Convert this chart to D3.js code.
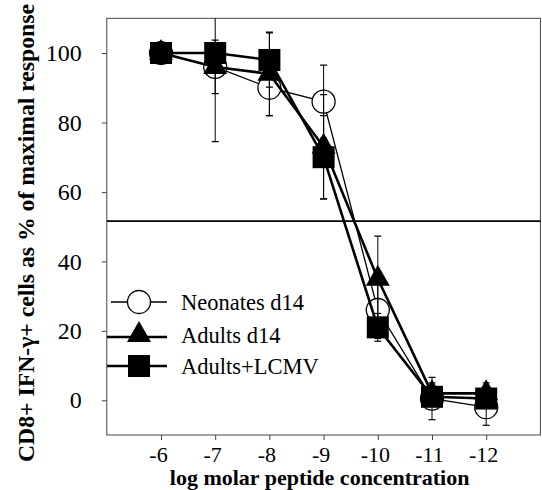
<!DOCTYPE html>
<html><head><meta charset="utf-8">
<script src="https://cdn.jsdelivr.net/npm/d3@7"></script>
<style>body{margin:0;background:#fff}svg{display:block}</style>
</head><body><svg id="c" width="542" height="490"></svg>
<script>
// ---- data ----
const concentrations = [-6, -7, -8, -9, -10, -11, -12];
const tickLabelsX = ["-6", "-7", "-8", "-9", "-10", "-11", "-12"];
const tickValuesY = [0, 20, 40, 60, 80, 100];
const seriesNames = ["Neonates d14", "Adults d14", "Adults+LCMV"];
const neonatesValues = [100, 96, 90, 86, 26, 0.5, -2];
const neonatesErrors = [0, 7.7, 8, 10.5, 8.2, 6.1, 5.2];
const adultsValues = [100, 96, 94, 73, 35, 2, 2];
const adultsErrors = [0, 21.5, 12, 15, 12.3, 3, 3];
const lcmvValues = [100, 100, 98, 70, 21, 1, 0.5];
const lcmvErrors = [0, 3, 7.8, 12, 4, 2, 2];
const halfMaxLine = 51.6;
const xTitle = "log molar peptide concentration";
const yTitle = "CD8+ IFN-\u03B3+ cells as % of maximal response";

// ---- layout ----
const svg = d3.select("#c");
const L = 106.8, R = 540.4, T = 18.3, B = 435;
const x = d3.scaleLinear().domain([-5, -13]).range([L, R]);
const y = d3.scaleLinear().domain([-10, 110]).range([B, T]);
const serif = "'Liberation Serif','Times New Roman',serif";

svg.append("rect").attr("width", 542).attr("height", 490).attr("fill", "#fff");

svg.append("defs").append("clipPath").attr("id", "plot")
  .append("rect").attr("x", L).attr("y", T).attr("width", R - L).attr("height", B - T);

// frame
svg.append("rect").attr("x", L).attr("y", T).attr("width", R - L).attr("height", B - T)
  .attr("fill", "none").attr("stroke", "#444").attr("stroke-width", 1);

// axes
const yAxis = svg.append("g").attr("transform", `translate(${L},0)`)
  .call(d3.axisLeft(y).tickValues(tickValuesY).tickSize(5).tickPadding(20).tickFormat(d3.format("d")));
const xAxis = svg.append("g").attr("transform", `translate(0,${B})`)
  .call(d3.axisBottom(x).tickValues(concentrations).tickSize(5).tickPadding(6)
    .tickFormat((d, i) => tickLabelsX[i]));
[yAxis, xAxis].forEach(g => {
  g.select(".domain").remove();
  g.selectAll("line").attr("stroke", "#444");
  g.selectAll("text").attr("font-family", serif).attr("fill", "#000");
});
yAxis.selectAll("text").attr("font-size", 24);
xAxis.selectAll("text").attr("font-size", 22).attr("dx", -3);

// half-max line
svg.append("line").attr("x1", L).attr("x2", R).attr("y1", y(halfMaxLine)).attr("y2", y(halfMaxLine))
  .attr("stroke", "#000").attr("stroke-width", 1.6);

// series
const series = [
  { name: seriesNames[0], values: neonatesValues, errors: neonatesErrors, shape: "circle", width: 1.3 },
  { name: seriesNames[1], values: adultsValues, errors: adultsErrors, shape: "triangle", width: 2.6 },
  { name: seriesNames[2], values: lcmvValues, errors: lcmvErrors, shape: "square", width: 2.6 }
];

function drawMarker(g, shape, cx, cy) {
  if (shape === "circle") {
    g.append("circle").attr("cx", cx).attr("cy", cy).attr("r", 11.5)
      .attr("fill", "#fff").attr("stroke", "#000").attr("stroke-width", 1.3);
  } else if (shape === "triangle") {
    g.append("path").attr("d", `M${cx},${cy - 14}L${cx + 12},${cy + 7}L${cx - 12},${cy + 7}Z`)
      .attr("fill", "#000");
  } else {
    g.append("rect").attr("x", cx - 11).attr("y", cy - 11).attr("width", 22).attr("height", 22)
      .attr("fill", "#000");
  }
}

const line = d3.line().x((d, i) => x(concentrations[i])).y(d => y(d));
const plot = svg.append("g");
series.forEach(s => {
  plot.append("path").datum(s.values).attr("d", line)
    .attr("fill", "none").attr("stroke", "#000").attr("stroke-width", s.width);
  s.values.forEach((v, i) => drawMarker(plot, s.shape, x(concentrations[i]), y(v)));
});

// error bars
const eb = svg.append("g").attr("clip-path", "url(#plot)");
series.forEach(s => {
  s.values.forEach((v, i) => {
    const e = s.errors[i];
    if (!e) return;
    const cx = x(concentrations[i]);
    eb.append("line").attr("x1", cx).attr("x2", cx).attr("y1", y(v - e)).attr("y2", y(v + e))
      .attr("stroke", "#000").attr("stroke-width", 1);
    [v - e, v + e].forEach(t => {
      eb.append("line").attr("x1", cx - 3.5).attr("x2", cx + 3.5).attr("y1", y(t)).attr("y2", y(t))
        .attr("stroke", "#000").attr("stroke-width", 1.2);
    });
  });
});

// legend
const legendRows = [302, 335, 366];
const lg = svg.append("g");
series.forEach((s, i) => {
  const cy = legendRows[i];
  const ly = s.shape === "triangle" ? cy + 2 : cy;
  lg.append("line").attr("x1", s.shape === "circle" ? 111 : 107).attr("x2", 167)
    .attr("y1", ly).attr("y2", ly).attr("stroke", "#000").attr("stroke-width", s.width);
  drawMarker(lg, s.shape, 139, cy);
  lg.append("text").attr("x", 181).attr("y", cy + 8).text(s.name)
    .attr("font-family", serif).attr("font-size", 22.5).attr("fill", "#000");
});

// axis titles
svg.append("text").attr("x", (L + R) / 2 - 4).attr("y", 485).attr("text-anchor", "middle")
  .attr("font-family", serif).attr("font-weight", "bold").attr("font-size", 22).text(xTitle);
svg.append("text").attr("transform", `translate(34,233) rotate(-90)`).attr("text-anchor", "middle")
  .attr("font-family", serif).attr("font-weight", "bold").attr("font-size", 23.5)
  .attr("textLength", 458).attr("lengthAdjust", "spacingAndGlyphs").text(yTitle);
</script></body></html>
